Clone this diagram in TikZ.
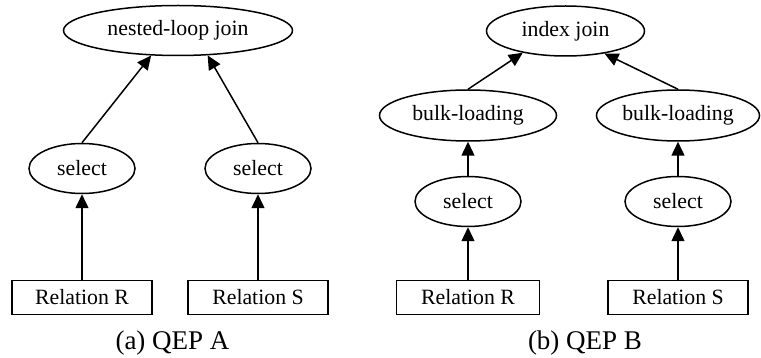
\documentclass[tikz,border=0pt]{standalone}
\usepackage{fontspec}
\setmainfont{Liberation Serif}
\usetikzlibrary{shapes.geometric,arrows.meta}
\begin{document}
\begin{tikzpicture}[x=1pt,y=-1pt,
  op/.style={draw,ellipse,line width=1.5pt,inner sep=0pt,font=\fontsize{21.8}{26}\selectfont},
  rel/.style={draw,rectangle,line width=1.5pt,inner sep=0pt,minimum height=34pt,font=\fontsize{21.8}{26}\selectfont},
  arr/.style={line width=1.5pt,-{Triangle[length=14pt,width=13pt]}},
  captxt/.style={anchor=base,inner sep=0pt,font=\fontsize{27}{32}\selectfont}]
\useasboundingbox (0,0) rectangle (761,358);
% (a) QEP A
\node[op,minimum width=229pt,minimum height=50pt] (nlj) at (178,30.5) {nested-loop join};
\node[op,minimum width=106pt,minimum height=50pt] (selA1) at (82,168.5) {select};
\node[op,minimum width=106pt,minimum height=50pt] (selA2) at (258,168.5) {select};
\node[rel,minimum width=140pt] (relA1) at (82,297.5) {Relation R};
\node[rel,minimum width=140pt] (relA2) at (258,297.5) {Relation S};
\draw[arr] (selA1.north) -- (nlj.223);
\draw[arr] (selA2.north) -- (nlj.-40);
\draw[arr] (relA1.north) -- (selA1.south);
\draw[arr] (relA2.north) -- (selA2.south);
\node[captxt] (capA) at (172.5,349) {(a) QEP A};
% (b) QEP B
\node[op,minimum width=158pt,minimum height=50pt] (ij) at (565.5,31) {index join};
\node[op,minimum width=177pt,minimum height=51pt] (blB1) at (468,115.5) {bulk-loading};
\node[op,minimum width=163pt,minimum height=51pt] (blB2) at (678,115.5) {bulk-loading};
\node[op,minimum width=106pt,minimum height=50pt] (selB1) at (468,201.5) {select};
\node[op,minimum width=106pt,minimum height=50pt] (selB2) at (678,201.5) {select};
\node[rel,minimum width=143pt] (relB1) at (468,297.5) {Relation R};
\node[rel,minimum width=140pt] (relB2) at (678,297.5) {Relation S};
\draw[arr] (blB1.north) -- (ij.207);
\draw[arr] (blB2.north) -- (ij.330);
\draw[arr] (selB1.north) -- (blB1.south);
\draw[arr] (selB2.north) -- (blB2.south);
\draw[arr] (relB1.north) -- (selB1.south);
\draw[arr] (relB2.north) -- (selB2.south);
\node[captxt] (capB) at (585,349) {(b) QEP B};
\end{tikzpicture}
\end{document}
